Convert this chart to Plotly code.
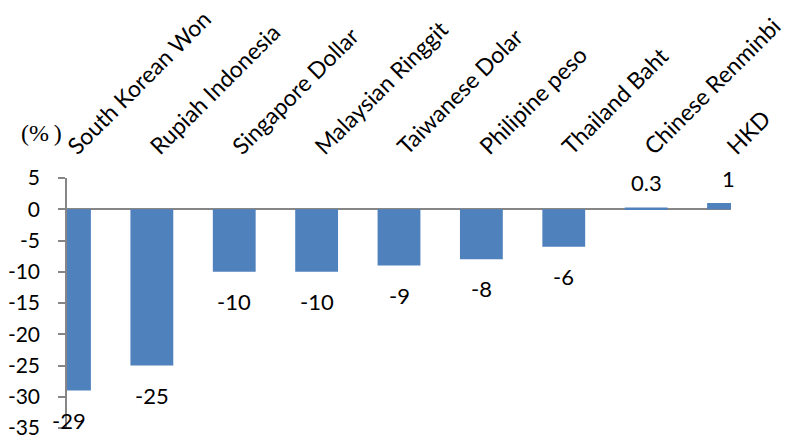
import plotly.graph_objects as go

categories = ["South Korean Won", "Rupiah Indonesia", "Singapore Dollar", "Malaysian Ringgit",
              "Taiwanese Dolar", "Philipine peso", "Thailand Baht", "Chinese Renminbi", "HKD"]
values = [-29, -25, -10, -10, -9, -8, -6, 0.3, 1]
value_labels = ["-29", "-25", "-10", "-10", "-9", "-8", "-6", "0.3", "1"]
y_ticks = [5, 0, -5, -10, -15, -20, -25, -30, -35]

FONT = "Lato"
BAR = "#4F81BD"
AXIS = "#868686"

idx = list(range(len(categories)))

fig = go.Figure()
fig.add_trace(go.Bar(x=idx, y=values, width=0.52, marker=dict(color=BAR, line=dict(width=0)),
                     hoverinfo="skip"))

for i, (v, t) in enumerate(zip(values, value_labels)):
    if v < 0:
        fig.add_annotation(x=i, y=v, text=t, showarrow=False, yanchor="top", yshift=-14,
                           font=dict(family=FONT, size=22, color="black"))
    else:
        fig.add_annotation(x=i, y=v, text=t, showarrow=False, yanchor="bottom", yshift=9,
                           font=dict(family=FONT, size=22, color="black"))

fig.add_annotation(xref="paper", yref="paper", x=-0.039, y=1.0, yshift=30, text="(%\u2009)",
                   showarrow=False, xanchor="center", yanchor="bottom",
                   font=dict(family="Liberation Serif", size=24, color="black"))

fig.update_layout(
    width=789, height=439,
    margin=dict(l=67, r=58, t=178, b=11, autoexpand=False),
    plot_bgcolor="white", paper_bgcolor="white",
    showlegend=False,
    xaxis=dict(side="top", range=[-0.03, 8.03], tickmode="array", tickvals=idx, ticktext=categories,
               tickangle=-45, showgrid=False, zeroline=False, showline=False, ticks="",
               ticklabelstandoff=13, automargin=False, ticklabeloverflow="allow",
               tickfont=dict(family=FONT, size=23, color="black")),
    yaxis=dict(range=[-35, 5], tickmode="array", tickvals=y_ticks, ticktext=[str(t) for t in y_ticks],
               showgrid=False, zeroline=True, zerolinecolor=AXIS, zerolinewidth=1.5,
               showline=True, linecolor=AXIS, linewidth=1.5, ticks="outside", ticklen=7,
               tickcolor=AXIS, tickwidth=1.5, ticklabelstandoff=14, automargin=False,
               ticklabeloverflow="allow",
               tickfont=dict(family=FONT, size=21, color="black")),
)

fig.write_html("out.html")
